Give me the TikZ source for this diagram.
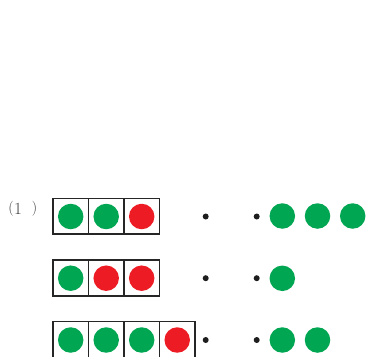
\documentclass[tikz,border=0pt]{standalone}
\definecolor{cgreen}{RGB}{0,166,81}
\definecolor{cred}{RGB}{237,28,36}
\definecolor{cdot}{RGB}{30,30,30}
\definecolor{ctext}{RGB}{60,60,60}
\tikzset{
  cell/.style={draw=black!85, line width=1.4pt, minimum width=35.5pt, minimum height=35.7pt, inner sep=0pt, outer sep=0pt},
  gball/.style={circle, fill=cgreen, minimum size=25.5pt, inner sep=0pt},
  rball/.style={circle, fill=cred, minimum size=25.5pt, inner sep=0pt},
  pdot/.style={circle, fill=cdot, minimum size=6pt, inner sep=0pt},
  lab/.style={inner sep=0pt, text=ctext, anchor=center},
}
\begin{document}
\begin{tikzpicture}[x=1pt,y=-1pt]
\useasboundingbox (0,0) rectangle (366,356);
\begin{scope}
\clip (0,0) rectangle (366,356);
\node[lab] (labl) at (11,208.5) {\fontsize{15pt}{17pt}\selectfont (};
\node[lab] (labn) at (18,208.5) {\fontsize{17pt}{19pt}\selectfont 1};
\node[lab] (labr) at (34.5,208.5) {\fontsize{15pt}{17pt}\selectfont )};
% row 1
\node[cell] (a1) at (70.7,216.3) {};
\node[cell] (a2) at (106.2,216.3) {};
\node[cell] (a3) at (141.7,216.3) {};
\node[gball] (ga1) at (70.7,216.5) {};
\node[gball] (ga2) at (106.2,216.5) {};
\node[rball] (ra3) at (141.7,216.5) {};
% row 2
\node[cell] (b1) at (70.7,278) {};
\node[cell] (b2) at (106.2,278) {};
\node[cell] (b3) at (141.7,278) {};
\node[gball] (gb1) at (70.7,278.2) {};
\node[rball] (rb2) at (106.2,278.2) {};
\node[rball] (rb3) at (141.7,278.2) {};
% row 3
\node[cell] (c1) at (70.7,339.6) {};
\node[cell] (c2) at (106.2,339.6) {};
\node[cell] (c3) at (141.7,339.6) {};
\node[cell] (c4) at (177.2,339.6) {};
\node[gball] (gc1) at (70.7,340) {};
\node[gball] (gc2) at (106.2,340) {};
\node[gball] (gc3) at (141.7,340) {};
\node[rball] (rc4) at (177.2,340) {};
% dots
\node[pdot] (l1) at (205.7,216.5) {};
\node[pdot] (l2) at (205.7,278.2) {};
\node[pdot] (l3) at (205.7,340) {};
\node[pdot] (r1) at (256.7,216.5) {};
\node[pdot] (r2) at (256.7,278.2) {};
\node[pdot] (r3) at (256.7,340) {};
% right balls
\node[gball] (s11) at (282.3,216) {};
\node[gball] (s12) at (317.5,216) {};
\node[gball] (s13) at (352.7,216) {};
\node[gball] (s21) at (282.3,278.3) {};
\node[gball] (s31) at (282.3,340) {};
\node[gball] (s32) at (317.5,340) {};
\end{scope}
\end{tikzpicture}
\end{document}
